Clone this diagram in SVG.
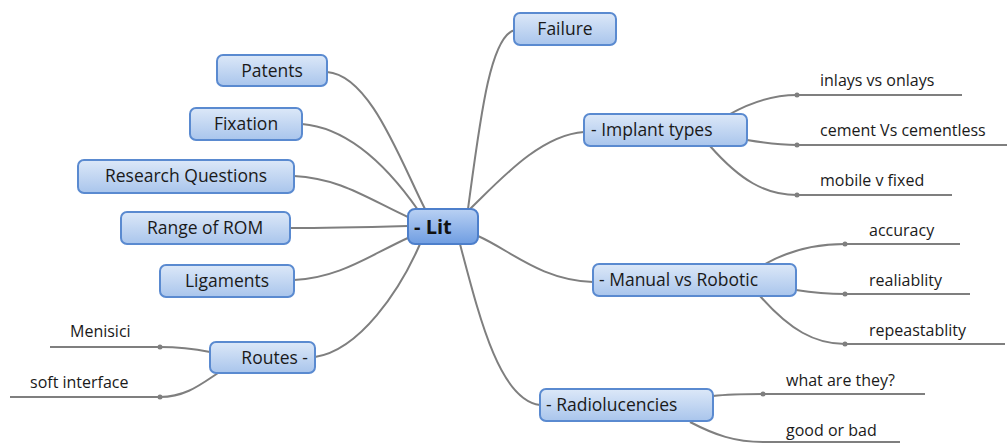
<svg xmlns="http://www.w3.org/2000/svg" width="1007" height="443" viewBox="0 0 1007 443">
<defs>
<linearGradient id="g" x1="0" y1="0" x2="0" y2="1">
<stop offset="0" stop-color="#dce8f8"/>
<stop offset="1" stop-color="#a9c5ec"/>
</linearGradient>
<linearGradient id="gc" x1="0" y1="0" x2="0" y2="1">
<stop offset="0" stop-color="#b9d1f3"/>
<stop offset="1" stop-color="#6f9de2"/>
</linearGradient>
<style>
.box{fill:url(#g);stroke:#5a8ad0;stroke-width:2}
.cbox{fill:url(#gc);stroke:#4d7fcb;stroke-width:2}
.t{font-family:"Open Sans","Liberation Sans",sans-serif;font-size:17.5px;fill:#1a1a1a}
.ct{font-family:"Open Sans","Liberation Sans",sans-serif;font-size:20px;font-weight:bold;fill:#111}
.lt{font-family:"Open Sans","Liberation Sans",sans-serif;font-size:16px;fill:#1a1a1a}
.c{fill:none;stroke:#7f7f7f;stroke-width:2}
.d{fill:#7f7f7f}
</style>
</defs>
<g id="connectors">
<path class="c" d="M468 209 C 480 120, 490 35, 515 30"/>
<path class="c" d="M425 209 C 400 160, 370 75, 327 72"/>
<path class="c" d="M418 210 C 390 170, 350 128, 302 124"/>
<path class="c" d="M410 218 C 370 200, 340 178, 294 176"/>
<path class="c" d="M408 226 C 370 227, 330 228, 290 228"/>
<path class="c" d="M410 237 C 370 255, 340 278, 294 280"/>
<path class="c" d="M420 244 C 400 290, 360 350, 315 357"/>
<path class="c" d="M470 209 C 500 180, 540 135, 584 132"/>
<path class="c" d="M478 236 C 510 250, 540 280, 593 282"/>
<path class="c" d="M460 244 C 480 320, 500 400, 540 405"/>
<path class="c" d="M210 352 C 190 348, 180 347, 160 347 L 50 347"/>
<path class="c" d="M218 373 C 200 385, 185 397, 160 397 L 10 397"/>
<path class="c" d="M730 114 C 755 100, 775 95, 797 95 L 962 95"/>
<path class="c" d="M747 140 C 765 143, 780 145, 797 145 L 1007 145"/>
<path class="c" d="M710 146 C 740 180, 765 195, 797 195 L 952 195"/>
<path class="c" d="M765 264 C 790 250, 815 244, 845 244 L 960 244"/>
<path class="c" d="M796 290 C 815 293, 830 294, 845 294 L 970 294"/>
<path class="c" d="M760 296 C 790 330, 815 344, 845 344 L 1005 344"/>
<path class="c" d="M713 396 C 730 394, 745 394, 763 394 L 925 394"/>
<path class="c" d="M690 422 C 715 435, 735 442, 763 442 L 900 442"/>
<circle class="d" cx="160" cy="347" r="2.5"/>
<circle class="d" cx="160" cy="397" r="2.5"/>
<circle class="d" cx="797" cy="95" r="2.5"/>
<circle class="d" cx="797" cy="145" r="2.5"/>
<circle class="d" cx="797" cy="195" r="2.5"/>
<circle class="d" cx="845" cy="244" r="2.5"/>
<circle class="d" cx="845" cy="294" r="2.5"/>
<circle class="d" cx="845" cy="344" r="2.5"/>
<circle class="d" cx="763" cy="394" r="2.5"/>
</g>
<g id="lit"><rect class="cbox" x="408" y="209" width="70" height="35" rx="7"/><text class="ct" x="414" y="234">- Lit</text></g>
<g id="failure"><rect class="box" x="514" y="13" width="102" height="32" rx="6"/><text class="t" x="565" y="35" text-anchor="middle">Failure</text></g>
<g id="implant"><rect class="box" x="584" y="114" width="163" height="32" rx="6"/><text class="t" x="591" y="136">- Implant types</text></g>
<g id="manual"><rect class="box" x="593" y="264" width="203" height="32" rx="6"/><text class="t" x="599" y="286">- Manual vs Robotic</text></g>
<g id="radio"><rect class="box" x="540" y="389" width="173" height="32" rx="6"/><text class="t" x="546" y="411">- Radiolucencies</text></g>
<g id="patents"><rect class="box" x="217" y="55" width="110" height="31" rx="6"/><text class="t" x="272" y="77" text-anchor="middle">Patents</text></g>
<g id="fixation"><rect class="box" x="190" y="108" width="112" height="32" rx="6"/><text class="t" x="246" y="130" text-anchor="middle">Fixation</text></g>
<g id="research"><rect class="box" x="78" y="160" width="216" height="33" rx="6"/><text class="t" x="186" y="182" text-anchor="middle">Research Questions</text></g>
<g id="rom"><rect class="box" x="121" y="212" width="169" height="32" rx="6"/><text class="t" x="205" y="234" text-anchor="middle">Range of ROM</text></g>
<g id="ligaments"><rect class="box" x="160" y="265" width="134" height="32" rx="6"/><text class="t" x="227" y="287" text-anchor="middle">Ligaments</text></g>
<g id="routes"><rect class="box" x="210" y="342" width="105" height="31" rx="6"/><text class="t" x="308" y="364" text-anchor="end">Routes -</text></g>
<g id="leaves">
<text class="lt" x="70" y="337">Menisici</text>
<text class="lt" x="30" y="388">soft interface</text>
<text class="lt" x="820" y="86">inlays vs onlays</text>
<text class="lt" x="820" y="136">cement Vs cementless</text>
<text class="lt" x="820" y="186">mobile v fixed</text>
<text class="lt" x="869" y="236">accuracy</text>
<text class="lt" x="869" y="286">realiablity</text>
<text class="lt" x="869" y="336">repeastablity</text>
<text class="lt" x="786" y="386">what are they?</text>
<text class="lt" x="786" y="436">good or bad</text>
</g>
</svg>
